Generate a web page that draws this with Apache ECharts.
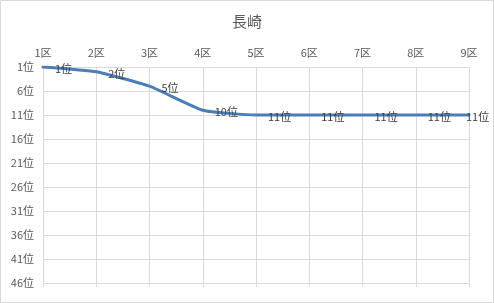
<!DOCTYPE html>
<html><head><meta charset="utf-8">
<script src="https://cdn.jsdelivr.net/npm/echarts@6/dist/echarts.min.js"></script>
<style>html,body{margin:0;padding:0;background:#fff}#c{width:494px;height:303px}</style>
</head><body><div id="c"></div>
<script>
const title = "長崎";
const categories = ["1区","2区","3区","4区","5区","6区","7区","8区","9区"];
const ranks = [1, 2, 5, 10, 11, 11, 11, 11, 11];
const rankMin = 1, rankMax = 46, rankStep = 5;

const FONT = '"Noto Sans CJK JP", "Noto Sans", sans-serif';
const chart = echarts.init(document.getElementById('c'), null, {renderer: 'canvas'});
const seriesData = ranks.map((r, i) => i === ranks.length - 1
  ? {value: r - rankMin, label: {distance: -3}}
  : {value: r - rankMin});
chart.setOption({
  animation: false,
  backgroundColor: '#fff',
  title: {text: title, left: 'center', top: 9, textStyle: {fontFamily: FONT, fontSize: 15, fontWeight: 'normal', color: '#595959'}},
  graphic: [{type: 'rect', shape: {x: 0.5, y: 0.5, width: 493, height: 302}, style: {fill: 'none', stroke: '#d9d9d9', lineWidth: 1}, silent: true}],
  grid: {left: 43, right: 25, top: 67, bottom: 20, containLabel: false},
  xAxis: [{
    type: 'category', position: 'top', data: categories, boundaryGap: false,
    axisLine: {show: false}, axisTick: {show: false},
    axisLabel: {fontFamily: FONT, fontSize: 11, color: '#595959', margin: 9},
    splitLine: {show: true, lineStyle: {color: '#d9d9d9', width: 1}}
  }, {
    type: 'category', position: 'bottom', data: categories, boundaryGap: false,
    axisLine: {show: false}, axisTick: {show: true, length: 4, alignWithLabel: true, lineStyle: {color: '#d9d9d9'}},
    axisLabel: {show: false}, splitLine: {show: false}
  }],
  yAxis: {
    type: 'value', inverse: true, min: 0, max: rankMax - rankMin, interval: rankStep,
    axisLine: {show: false}, axisTick: {show: false},
    axisLabel: {fontFamily: FONT, fontSize: 11, color: '#595959', margin: 9, formatter: v => (v + rankMin) + '位'},
    splitLine: {show: true, lineStyle: {color: '#d9d9d9', width: 1}}
  },
  series: [{
    type: 'line', xAxisIndex: 0, smooth: 0.15, symbol: 'circle', symbolSize: 0, showSymbol: true,
    data: seriesData,
    itemStyle: {color: '#4a7ebb'},
    lineStyle: {color: '#4a7ebb', width: 3, cap: 'round'},
    label: {show: true, position: 'right', distance: 12, offset: [0, 2], fontFamily: FONT, fontSize: 11, color: '#404040', formatter: p => ranks[p.dataIndex] + '位'}
  }]
});
</script></body></html>
